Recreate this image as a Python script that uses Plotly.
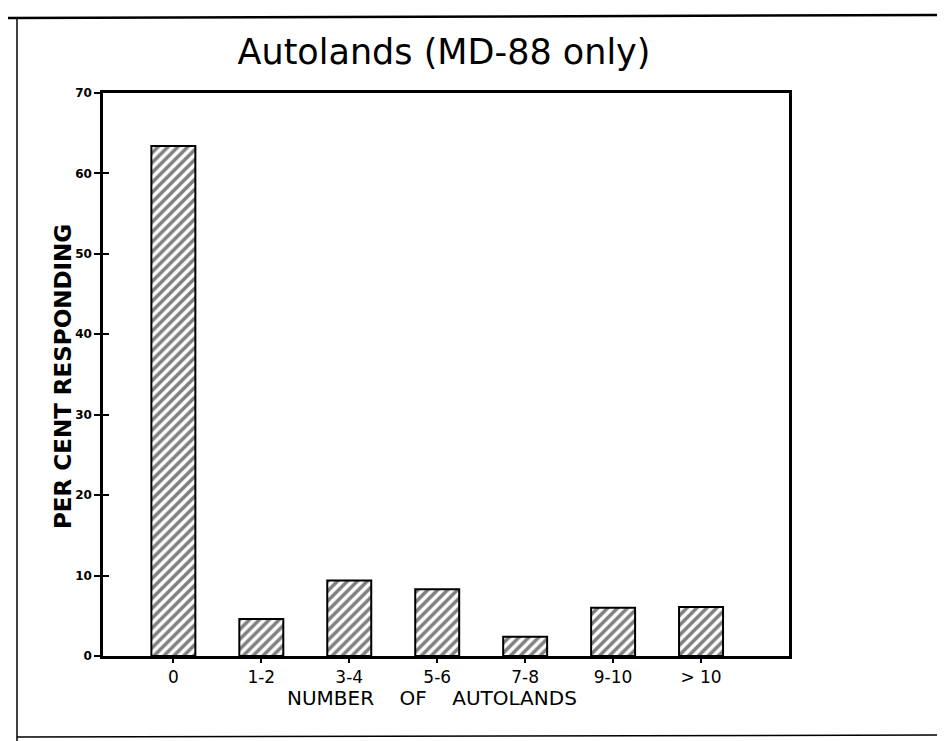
import plotly.graph_objects as go

categories = ["0", "1-2", "3-4", "5-6", "7-8", "9-10", "> 10"]
percent_responding = [63.4, 4.6, 9.4, 8.3, 2.4, 6.0, 6.1]
y_ticks = [0, 10, 20, 30, 40, 50, 60, 70]

W, H = 945, 741
OFF = 8  # page body margin in the browser
# desired plot-area edges in screen pixels
SL, SR, ST, SB = 103, 789, 93, 656
L, T = SL - OFF, ST - OFF
R = W - (SR - OFF)
B = H - (SB - OFF)
pw, ph = SR - SL, SB - ST

def px_x(x):
    return (x - SL) / pw

def px_y(y):
    return (SB - y) / ph

fig = go.Figure()
fig.add_trace(go.Bar(
    x=list(range(len(categories))),
    y=percent_responding,
    width=0.5,
    marker=dict(
        color="white",
        line=dict(color="black", width=2),
        pattern=dict(shape="/", fgcolor="black", bgcolor="white", size=7, solidity=0.5),
    ),
    showlegend=False,
))
fig.add_trace(go.Scatter(x=[0], y=[0], yaxis="y2", mode="markers",
                         marker=dict(opacity=0), showlegend=False, hoverinfo="skip"))

fig.update_layout(
    width=W, height=H,
    margin=dict(l=L, r=R, t=T, b=B),
    paper_bgcolor="white", plot_bgcolor="white",
    title=dict(text="Autolands (MD-88 only)", x=(444 - OFF) / W, xanchor="center",
               y=1 - (52 - OFF) / H, yanchor="middle",
               font=dict(family="DejaVu Sans", size=35, color="black")),
    xaxis=dict(
        range=[-0.8, 7.0],
        tickmode="array", tickvals=list(range(len(categories))), ticktext=categories,
        showline=True, linecolor="black", linewidth=2.5, mirror=True,
        ticks="outside", ticklen=4, tickwidth=1.5, tickcolor="black",
        showgrid=False, zeroline=False,
        tickfont=dict(family="DejaVu Sans", size=17, color="black"),
    ),
    yaxis=dict(
        range=[0, 70],
        tickmode="array", tickvals=y_ticks, ticktext=[str(v) for v in y_ticks],
        showline=True, linecolor="black", linewidth=2.5, mirror=True,
        ticks="outside", ticklen=6, tickwidth=2, tickcolor="black",
        showgrid=False, zeroline=False,
        tickfont=dict(family="DejaVu Sans", size=12, color="black", weight="bold"),
    ),
    yaxis2=dict(
        range=[0, 70], overlaying="y", side="left",
        tickmode="array", tickvals=y_ticks, showticklabels=False,
        ticks="inside", ticklen=6, tickwidth=2, tickcolor="black",
        showgrid=False, zeroline=False, showline=False,
    ),
    bargap=0.5,
)

fig.add_annotation(text="NUMBER&nbsp;&nbsp;&nbsp; OF&nbsp;&nbsp;&nbsp; AUTOLANDS", xref="paper", yref="paper",
                   x=px_x(432), y=px_y(698), xanchor="center", yanchor="middle",
                   showarrow=False, font=dict(family="DejaVu Sans", size=20, color="black"))
fig.add_annotation(text="<b>PER CENT RESPONDING</b>", xref="paper", yref="paper",
                   x=px_x(63), y=px_y(377), xanchor="center", yanchor="middle", textangle=-90,
                   showarrow=False, font=dict(family="DejaVu Sans", size=23, color="black"))

# outer page frame
fig.add_shape(type="line", xref="paper", yref="paper", x0=px_x(5), x1=px_x(950), y0=px_y(18), y1=px_y(15),
              line=dict(color="black", width=2.5))
fig.add_shape(type="line", xref="paper", yref="paper", x0=px_x(17), x1=px_x(17), y0=px_y(18), y1=px_y(745),
              line=dict(color="black", width=1.5))
fig.add_shape(type="line", xref="paper", yref="paper", x0=px_x(17), x1=px_x(950), y0=px_y(737), y1=px_y(735),
              line=dict(color="black", width=1.5))

fig.write_html("out.html")
